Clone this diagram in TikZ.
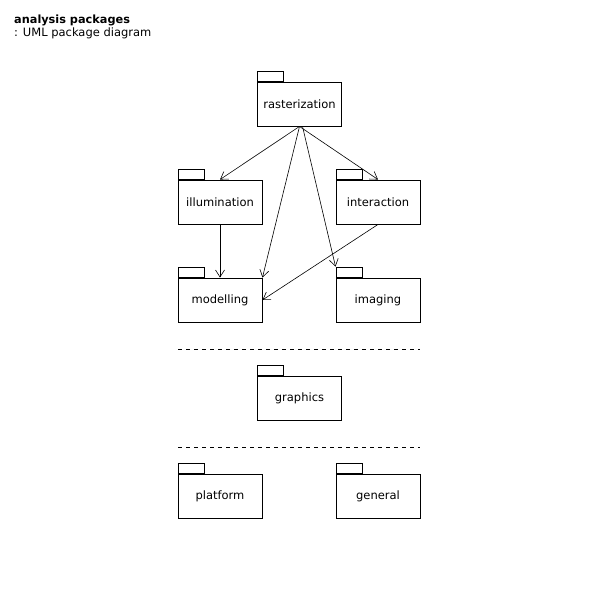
\documentclass[tikz,border=0pt]{standalone}
\usepackage{fontspec}
\setmainfont{DejaVu Sans}
\usetikzlibrary{arrows.meta}
\tikzset{
  pkgbody/.style={draw, line width=0.9pt, minimum width=84pt, minimum height=44pt, inner sep=0pt, font=\fontsize{11.5}{13}\selectfont},
  pkgtab/.style={draw, line width=0.9pt, minimum width=26pt, minimum height=10pt, inner sep=0pt, anchor=south west},
  dep/.style={line width=0.6pt, -{Straight Barb[length=7pt,width=9pt,line width=0.6pt]}},
  sep/.style={line width=0.9pt, dash pattern=on 4pt off 4pt}
}
\def\pkg(#1)(#2)#3{\node[pkgbody] (#1) at (#2) {#3}; \node[pkgtab] (#1-tab) at (#1.north west) {};}

\begin{document}
\begin{tikzpicture}[x=1pt, y=-1pt]
			%%%%% START %%%%%
			\useasboundingbox[fill=white] (0, 0) rectangle (600, 600);
			
			\node[anchor=base west, inner sep=0pt, font=\fontsize{11.3}{13}\selectfont\bfseries] (title) at (14, 23.5) {analysis packages};
			\node[anchor=base west, inner sep=0pt, font=\fontsize{11.5}{13}\selectfont] (subtitle) at (14, 36) {: UML package diagram};
			
			\pkg(rasterization)(299.5, 104){rasterization}
			\pkg(illumination)(220, 202){illumination}
			\pkg(interaction)(378, 202){interaction}
			\pkg(modelling)(220, 300){modelling}
			\pkg(imaging)(378, 300){imaging}
			
			\draw[sep] (178, 349) -- (420, 349);
			
			\pkg(graphics)(299.5, 398){graphics}
			
			\draw[sep] (178, 447) -- (420, 447);
			
			\pkg(platform)(220, 496.5){platform}
			\pkg(general)(378, 496.5){general}
			
			%%%%% dependencies
			\draw[dep] (rasterization.south) -- (illumination.north);
			\draw[dep] (rasterization.south) -- (interaction.north);
			\draw[dep] (rasterization.south) -- (modelling.north east);
			\draw[dep] ([xshift=3pt]rasterization.south) -- (imaging-tab.north west);
			\draw[dep] (illumination.south) -- (modelling.north);
			\draw[dep] (interaction.south) -- (modelling.east);
			
			%%%%% END %%%%%
\end{tikzpicture}
\end{document}
